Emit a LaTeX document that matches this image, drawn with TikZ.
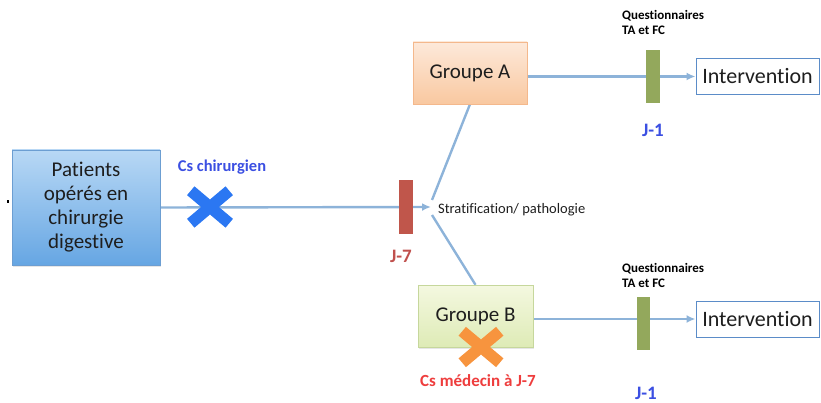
\documentclass[tikz,border=0pt]{standalone}
\usepackage{fontspec}
\setmainfont[Ligatures=NoCommon]{Carlito}
\usetikzlibrary{arrows.meta,shapes.misc,backgrounds,shadows}
\definecolor{conncol}{HTML}{8DB3D9}
\definecolor{barred}{HTML}{C0564B}
\definecolor{bargreen}{HTML}{93A85C}
\definecolor{txtblue}{HTML}{3B4FE2}
\definecolor{txtred}{HTML}{C0504D}
\definecolor{txtred2}{HTML}{EE3D3D}
\definecolor{crossblue}{HTML}{2B77F2}
\definecolor{crossorange}{HTML}{F7943E}
\definecolor{patTop}{HTML}{B8D8F5}
\definecolor{patBot}{HTML}{66A6E3}
\definecolor{patBorder}{HTML}{6C9ED2}
\definecolor{aTop}{HTML}{FDE9DA}
\definecolor{aBot}{HTML}{F9C8A0}
\definecolor{aBorder}{HTML}{F4B88C}
\definecolor{bTop}{HTML}{F4F8E0}
\definecolor{bBot}{HTML}{DEEBB6}
\definecolor{bBorder}{HTML}{C6D79C}
\definecolor{interBorder}{HTML}{5B8CC8}
\definecolor{boxtext}{HTML}{1E1E1E}
\tikzset{
  conn/.style={draw=conncol, line width=2.4pt},
  arr/.style={conn, -{Latex[length=9pt,width=8pt]}},
  bigbox/.style={rectangle, inner sep=0pt, align=center, text=boxtext, font=\fontsize{21}{24}\selectfont,
    drop shadow={opacity=0.2, shadow xshift=1pt, shadow yshift=-1.5pt}},
  bar/.style={rectangle, inner sep=0pt, minimum width=14pt, minimum height=54pt},
  crossmark/.style={cross out, line width=11.5pt, inner sep=0pt},
  smalllbl/.style={font=\bfseries\fontsize{13}{15}\selectfont, align=left, anchor=west, inner sep=0pt},
  daylbl/.style={font=\bfseries\fontsize{19}{21}\selectfont, inner sep=0pt},
  interbox/.style={rectangle, draw=interBorder, line width=1pt, fill=white, minimum width=123pt,
    minimum height=36pt, inner sep=0pt, text=boxtext, font=\fontsize{22}{24}\selectfont}
}
\begin{document}
\begin{tikzpicture}[x=1pt,y=-1pt]
\useasboundingbox (0,0) rectangle (821,403);
% left box
\node[bigbox, minimum width=148pt, minimum height=115pt, top color=patTop, bottom color=patBot, draw=patBorder]
  (patients) at (86,207.5) {Patients\\opérés en\\chirurgie\\digestive};
\node[fill=black, inner sep=0pt, minimum width=2pt, minimum height=3pt] (dot) at (8,202) {};
% groups
\node[bigbox, minimum width=114pt, minimum height=62pt, top color=aTop, bottom color=aBot, draw=aBorder]
  (groupA) at (470,73) {Groupe A};
\node[bigbox, minimum width=115pt, minimum height=62pt, top color=bTop, bottom color=bBot, draw=bBorder]
  (groupB) at (475.5,316) {Groupe B};
% interventions
\node[interbox] (interA) at (757.5,76.5) {Intervention};
\node[interbox] (interB) at (757.5,319) {Intervention};
% bars
\node[bar, fill=barred] (redbar) at (406,207) {};
\node[bar, fill=bargreen, minimum height=53pt] (greenA) at (653,76.5) {};
\node[bar, fill=bargreen, minimum width=13pt, minimum height=53pt] (greenB) at (643,323) {};
% split coordinates
\coordinate (split) at (431,207);
\coordinate (splitA) at (432,200);
\coordinate (splitB) at (432,215);
% connectors
\begin{scope}[on background layer]
\draw[arr] (patients.east) -- (split);
\draw[conn] (splitA) -- (groupA.south);
\draw[conn] (splitB) -- (groupB.north);
\draw[arr] (groupA.east |- interA.west) -- (interA.west);
\draw[arr] (groupB.east |- interB.west) -- (interB.west);
\end{scope}
% crosses
\node[crossmark, draw=crossblue, minimum width=27pt, minimum height=21pt] (xblue) at (210,207) {};
\node[crossmark, draw=crossorange, minimum width=26pt, minimum height=20pt] (xorange) at (481,347) {};
% labels
\node[font=\bfseries\fontsize{16.5}{18}\selectfont, text=txtblue, inner sep=0pt] (cschir) at (222,167) {Cs chirurgien};
\node[daylbl, text=txtred] (j7) at (401,256) {J-7};
\node[font=\fontsize{14.5}{16}\selectfont, anchor=west, inner sep=0pt, text=boxtext] (strat) at (438,210) {Stratification/ pathologie};
\node[smalllbl] (qA) at (622,22) {Questionnaires\\TA et FC};
\node[smalllbl] (qB) at (622,275) {Questionnaires\\TA et FC};
\node[daylbl, text=txtblue] (j1A) at (653,130) {J-1};
\node[daylbl, text=txtblue] (j1B) at (646,393) {J-1};
\node[font=\bfseries\fontsize{17}{19}\selectfont, text=txtred2, inner sep=0pt] (csmed) at (478,381) {Cs médecin à J-7};
\end{tikzpicture}
\end{document}
